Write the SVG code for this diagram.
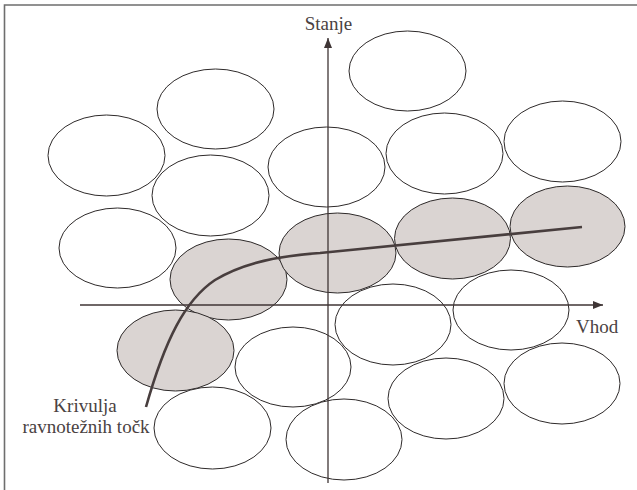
<svg xmlns="http://www.w3.org/2000/svg" width="637" height="490" viewBox="0 0 637 490">
<style>
.e{fill:#ffffff;stroke:#2e2a2a;stroke-width:1}
.s{fill:#dad4d2;stroke:#2e2a2a;stroke-width:1}
.ax{stroke:#3f3535;stroke-width:1.3;fill:none}
.t{font-family:"Liberation Serif","Times New Roman",serif;font-size:19px;fill:#4a4242}
</style>
<defs>
<marker id="ar" viewBox="0 0 10 8" refX="10" refY="4" markerWidth="10" markerHeight="8" markerUnits="userSpaceOnUse" orient="auto">
<path d="M0,0 L10,4 L0,8 Z" fill="#3f3535"/>
</marker>
</defs>
<rect width="637" height="490" fill="#ffffff"/>
<path d="M4.5,490 V5 H637" fill="none" stroke="#6e6e6e" stroke-width="1.6"/>
<g id="regions">
<ellipse id="r1" class="e" cx="407.5" cy="71" rx="58.5" ry="40"/>
<ellipse id="r2" class="e" cx="215.5" cy="109" rx="58.5" ry="40"/>
<ellipse id="r3" class="e" cx="106.5" cy="155.5" rx="58.5" ry="40.5"/>
<ellipse id="r4" class="e" cx="326.5" cy="167" rx="58.5" ry="40"/>
<ellipse id="r5" class="e" cx="444.5" cy="153.5" rx="58.5" ry="40.5"/>
<ellipse id="r6" class="e" cx="562.5" cy="141.5" rx="58.5" ry="40.5"/>
<ellipse id="r7" class="e" cx="210.5" cy="195.5" rx="58.5" ry="40.5"/>
<ellipse id="r8" class="e" cx="117.5" cy="248" rx="58.5" ry="40"/>
<ellipse id="r9" class="s" cx="228.5" cy="279.5" rx="58.5" ry="40.5"/>
<ellipse id="r10" class="s" cx="337.5" cy="253" rx="58.5" ry="40"/>
<ellipse id="r11" class="s" cx="452.5" cy="238.5" rx="58" ry="40.5"/>
<ellipse id="r12" class="s" cx="567.5" cy="226.5" rx="57.5" ry="40.5"/>
<ellipse id="r13" class="s" cx="175.5" cy="350.5" rx="58.5" ry="40.5"/>
<ellipse id="r14" class="e" cx="393" cy="324.5" rx="58" ry="40.5"/>
<ellipse id="r15" class="e" cx="511" cy="310" rx="58" ry="40"/>
<ellipse id="r16" class="e" cx="293" cy="367" rx="58" ry="40"/>
<ellipse id="r17" class="e" cx="446" cy="398.5" rx="58" ry="40.5"/>
<ellipse id="r18" class="e" cx="562" cy="383.5" rx="58" ry="40.5"/>
<ellipse id="r19" class="e" cx="212.5" cy="428" rx="58.5" ry="41"/>
<ellipse id="r20" class="e" cx="344" cy="439.5" rx="58" ry="40.5"/>
</g>
<g id="connectors">
<line id="axis-y" class="ax" x1="328" y1="483" x2="328" y2="38" marker-end="url(#ar)"/>
<line id="axis-x" class="ax" x1="80" y1="305" x2="603" y2="305" marker-end="url(#ar)"/>
<path id="curve" d="M146,407 C165,340 185,300 215,280 C245,262 280,256 320,253 L582,227" fill="none" stroke="#483e3e" stroke-width="2.6"/>
</g>
<g id="labels">
<text class="t" x="328.5" y="30" text-anchor="middle">Stanje</text>
<text class="t" x="576" y="333">Vhod</text>
<text class="t" x="85" y="412" text-anchor="middle">Krivulja</text>
<text class="t" x="86" y="433" text-anchor="middle">ravnotežnih točk</text>
</g>
</svg>
